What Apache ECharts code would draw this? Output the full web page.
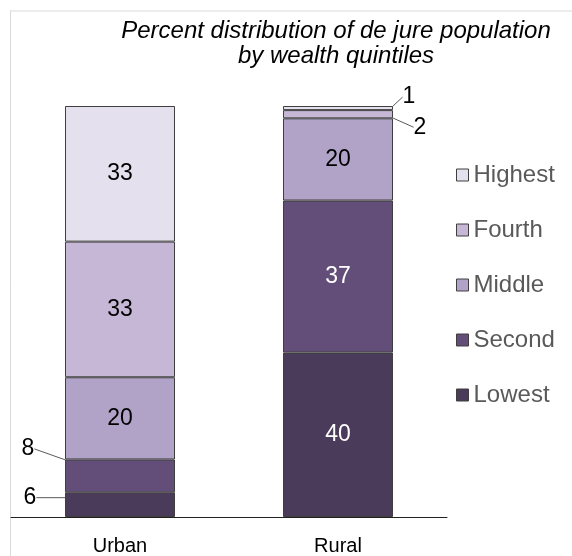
<!DOCTYPE html>
<html>
<head>
<meta charset="utf-8">
<script src="https://cdn.jsdelivr.net/npm/echarts@6/dist/echarts.min.js"></script>
<style>
html,body{margin:0;padding:0;background:#fff;}
#main{width:572px;height:556px;}
</style>
</head>
<body>
<div id="main"></div>
<script>
const categories = ['Urban', 'Rural'];
const seriesNames = ['Lowest', 'Second', 'Middle', 'Fourth', 'Highest'];
const lowest = [6, 40];
const second = [8, 37];
const middle = [20, 20];
const fourth = [33, 2];
const highest = [33, 1];
const values = [lowest, second, middle, fourth, highest];
const colors = ['#4b3b5a', '#634e7a', '#b1a3c8', '#c7b7d6', '#e5e0ee'];
const whiteLabel = {'0-1': true, '1-1': true};

const FONT = '"Liberation Sans", Arial, sans-serif';

// labels placed outside (seriesIndex-dataIndex)
const outside = {
  '0-0': function (r) { return {x: r.x - 35, y: r.y + r.height / 2 - 7}; },
  '1-0': function (r) { return {x: r.x - 37, y: r.y + r.height / 2 - 27}; },
  '4-1': function (r) { return {x: r.x + r.width + 16, y: r.y + r.height / 2 - 11}; },
  '3-1': function (r) { return {x: r.x + r.width + 27, y: r.y + r.height / 2 + 13}; }
};

const chart = echarts.init(document.getElementById('main'));
const series = seriesNames.map(function (name, si) {
  return {
    name: name,
    type: 'bar',
    stack: 'total',
    barWidth: 110,
    data: values[si].map(function (v, di) {
      return {
        value: v,
        label: {
          color: whiteLabel[si + '-' + di] ? '#fff' : '#000'
        }
      };
    }),
    itemStyle: {color: colors[si], borderColor: '#3f3f3f', borderWidth: 1},
    label: {
      show: true,
      position: 'inside',
      fontFamily: FONT,
      fontSize: 23,
      formatter: '{c}'
    },
    labelLine: {show: true, lineStyle: {color: '#595959', width: 1}},
    labelLayout: function (params) {
      const key = params.seriesIndex + '-' + params.dataIndex;
      const f = outside[key];
      if (f) {
        const p = f(params.rect);
        return {x: p.x, y: p.y, align: 'center', verticalAlign: 'middle'};
      }
      return {};
    },
    emphasis: {disabled: true}
  };
});

chart.setOption({
  animation: false,
  title: {
    text: 'Percent distribution of de jure population\nby wealth quintiles',
    left: 331,
    top: 14,
    textAlign: 'center',
    textStyle: {fontFamily: FONT, fontSize: 24, fontStyle: 'italic', fontWeight: 'normal', color: '#000', lineHeight: 25}
  },
  legend: {
    orient: 'vertical',
    left: 451,
    top: 158,
    itemWidth: 12,
    itemHeight: 12,
    itemGap: 31,
    icon: 'rect',
    data: ['Highest', 'Fourth', 'Middle', 'Second', 'Lowest'],
    itemStyle: {borderColor: '#3f3f3f', borderWidth: 1},
    textStyle: {fontFamily: FONT, fontSize: 24, color: '#595959', lineHeight: 24, padding: [0, 0, 0, 0]},
    selectedMode: false
  },
  grid: {left: 11, right: 125, top: 106, bottom: 38},
  xAxis: {
    type: 'category',
    data: categories,
    axisLine: {lineStyle: {color: '#222', width: 1}},
    axisTick: {show: false},
    axisLabel: {fontFamily: FONT, fontSize: 20, color: '#000', margin: 19}
  },
  yAxis: {
    type: 'value',
    min: 0,
    max: 100,
    show: false,
    splitLine: {show: false}
  },
  graphic: [
    {type: 'line', shape: {x1: 10, y1: 11, x2: 572, y2: 11}, style: {stroke: '#d9d9d9', lineWidth: 1}, silent: true},
    {type: 'line', shape: {x1: 10.5, y1: 11, x2: 10.5, y2: 556}, style: {stroke: '#d9d9d9', lineWidth: 1}, silent: true}
  ],
  series: series
});
</script>
</body>
</html>
